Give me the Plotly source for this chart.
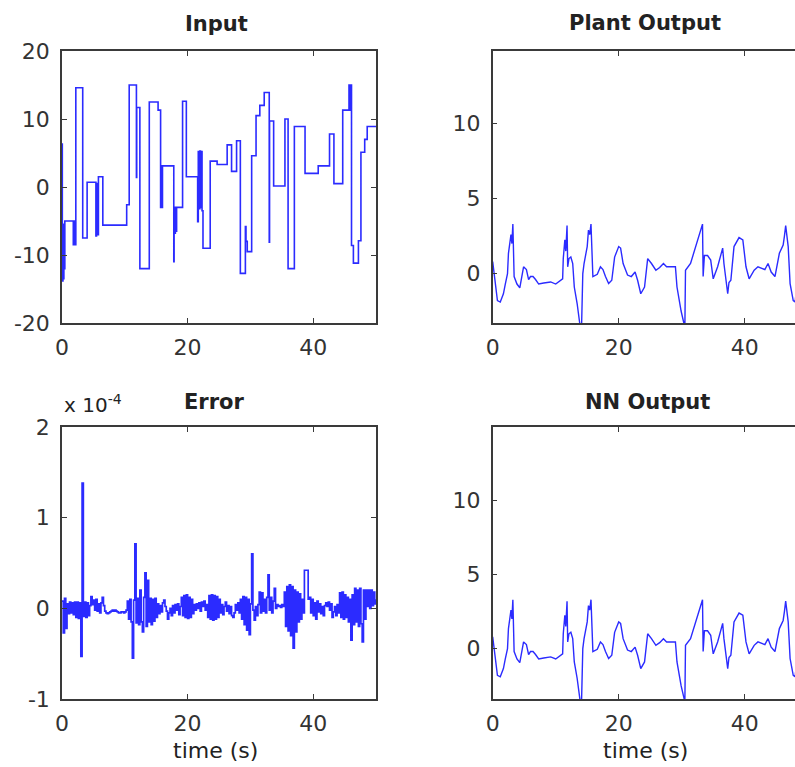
import plotly.graph_objects as go

# ---------------- data ----------------
# Input signal: piecewise-constant steps (time of step, level)
input_t = [0.0, 0.05, 0.15, 0.2, 0.3, 0.35, 0.45, 1.8, 1.9, 2.0, 2.2, 3.3, 4.0, 5.4, 5.5, 5.6,
           5.8, 6.5, 10.3, 10.7, 11.85, 11.9, 12.4, 13.9, 15.3, 15.7, 15.8, 15.9, 16.0, 17.8,
           17.85, 17.95, 18.05, 18.15, 18.25, 19.2, 19.8, 21.6, 21.7, 21.8, 21.95, 22.05, 22.15,
           22.3, 22.45, 23.6, 24.7, 26.3, 27.0, 27.8, 28.4, 29.2, 29.3, 29.5, 30.2, 30.9, 31.5,
           32.2, 33.0, 33.05, 33.7, 35.5, 36.0, 37.0, 38.7, 40.8, 42.6, 43.3, 44.7, 45.7, 45.8,
           45.9, 46.1, 46.4, 47.2, 47.6, 48.2, 48.6, 50.0]
input_u = [6.3, -13.8, -5.5, -13.5, -6.0, -12.0, -5.0, -8.5, -5.0, -8.5, 14.6, -7.5, 0.7, -7.2,
           0.5, -7.0, 1.5, -5.6, -2.6, 15.0, 1.4, 11.7, -12.0, 12.5, 11.3, -3.0, 3.1, -3.0, 3.1,
           -11.0, -3.0, -6.8, -3.0, -6.5, -3.0, 12.6, 1.5, -5.1, 5.2, -3.2, 5.3, -3.0, 5.2, -3.5,
           -9.0, 3.8, 3.3, 6.2, 2.3, 6.8, -12.7, -5.8, -8.0, -9.5, 4.6, 10.5, 12.0, 13.9, -8.1,
           9.7, 0.15, 10.0, -12.0, 8.9, 2.0, 3.1, 7.8, 0.5, 11.3, 15.0, 11.3, 15.0, -8.6, -11.2,
           -7.9, 5.1, 7.0, 8.9, 8.9]

# Plant output
plant_t = [0.0, 0.2, 0.5, 0.75, 1.2, 1.7, 2.0, 2.35, 2.5, 2.9, 3.05, 3.2, 3.4, 3.85, 4.3, 4.65,
           4.9, 5.35, 5.7, 6.0, 6.4, 6.8, 7.3, 8.1, 9.2, 10.0, 10.7, 11.1, 11.2, 11.45, 11.6,
           11.8, 11.9, 12.1, 12.4, 12.7, 12.95, 13.4, 13.9, 14.1, 14.3, 14.5, 15.0, 15.2, 15.4,
           15.6, 15.9, 16.6, 17.1, 17.5, 17.9, 18.4, 18.9, 19.35, 20.0, 20.3, 20.7, 21.4, 22.0,
           22.6, 23.0, 23.5, 24.1, 24.6, 25.2, 25.9, 26.5, 27.1, 27.6, 29.0, 29.25, 29.9, 30.5,
           30.6, 31.4, 31.9, 32.6, 33.0, 33.3, 33.4, 33.6, 34.1, 34.6, 35.0, 35.7, 36.5, 36.7,
           37.3, 37.5, 37.8, 38.3, 39.1, 39.7, 40.2, 40.7, 41.5, 42.1, 43.2, 43.7, 44.2, 44.8,
           45.5, 46.1, 46.3, 46.5, 46.9, 47.2, 47.7, 48.0, 48.2, 48.5, 49.0, 49.5, 50.0]
plant_y = [0.8, 0.0, -1.2, -1.8, -1.9, -1.35, -0.7, 0.0, 1.35, 2.6, 2.0, 3.3, -0.2, -0.7, -0.95,
           -0.2, 0.45, 0.27, -0.4, -0.2, -0.2, -0.4, -0.7, -0.63, -0.56, -0.7, -0.45, -0.35, 1.0,
           2.25, 1.5, 3.2, 0.45, 1.0, 1.1, 0.67, -0.9, -2.0, -3.6, -3.6, 0.0, 0.67, 1.8, 2.9, 2.6,
           3.3, -0.2, -0.05, 0.45, 0.27, -0.2, -0.67, -0.45, 1.1, 1.8, 1.7, 0.67, -0.1, -0.2, 0.1,
           -0.45, -1.35, -0.9, 1.0, 0.67, 0.22, 0.4, 0.67, 0.45, 0.45, -0.9, -2.5, -3.6, 0.22,
           0.67, 1.35, 2.25, 2.9, 3.3, -0.2, 1.2, 1.2, 0.9, -0.35, 0.45, 1.7, 0.67, -1.35, -0.6,
           -0.45, 1.8, 2.4, 2.25, 0.45, -0.35, 0.22, 0.45, 0.27, 0.67, 0.1, -0.2, 1.35, 1.9, 2.5,
           3.2, 1.8, -0.67, -1.8, -1.9, -1.1, 0.45, 0.6, 0.5, 0.4]

# Neural network output
nn_t = [0.0, 0.2, 0.5, 0.75, 1.2, 1.7, 2.0, 2.35, 2.5, 2.9, 3.05, 3.2, 3.4, 3.85, 4.3, 4.65,
        4.9, 5.35, 5.7, 6.0, 6.4, 6.8, 7.3, 8.1, 9.2, 10.0, 10.7, 11.1, 11.2, 11.45, 11.6,
        11.8, 11.9, 12.1, 12.4, 12.7, 12.95, 13.4, 13.9, 14.1, 14.3, 14.5, 15.0, 15.2, 15.4,
        15.6, 15.9, 16.6, 17.1, 17.5, 17.9, 18.4, 18.9, 19.35, 20.0, 20.3, 20.7, 21.4, 22.0,
        22.6, 23.0, 23.5, 24.1, 24.6, 25.2, 25.9, 26.5, 27.1, 27.6, 29.0, 29.25, 29.9, 30.5,
        30.6, 31.4, 31.9, 32.6, 33.0, 33.3, 33.4, 33.6, 34.1, 34.6, 35.0, 35.7, 36.5, 36.7,
        37.3, 37.5, 37.8, 38.3, 39.1, 39.7, 40.2, 40.7, 41.5, 42.1, 43.2, 43.7, 44.2, 44.8,
        45.5, 46.1, 46.3, 46.5, 46.9, 47.2, 47.7, 48.0, 48.2, 48.5, 49.0, 49.5, 50.0]
nn_y = [0.8, 0.0, -1.2, -1.8, -1.9, -1.35, -0.7, 0.0, 1.35, 2.6, 2.0, 3.3, -0.2, -0.7, -0.95,
        -0.2, 0.45, 0.27, -0.4, -0.2, -0.2, -0.4, -0.7, -0.63, -0.56, -0.7, -0.45, -0.35, 1.0,
        2.25, 1.5, 3.2, 0.45, 1.0, 1.1, 0.67, -0.9, -2.0, -3.6, -3.6, 0.0, 0.67, 1.8, 2.9, 2.6,
        3.3, -0.2, -0.05, 0.45, 0.27, -0.2, -0.67, -0.45, 1.1, 1.8, 1.7, 0.67, -0.1, -0.2, 0.1,
        -0.45, -1.35, -0.9, 1.0, 0.67, 0.22, 0.4, 0.67, 0.45, 0.45, -0.9, -2.5, -3.6, 0.22,
        0.67, 1.35, 2.25, 2.9, 3.3, -0.2, 1.2, 1.2, 0.9, -0.35, 0.45, 1.7, 0.67, -1.35, -0.6,
        -0.45, 1.8, 2.4, 2.25, 0.45, -0.35, 0.22, 0.45, 0.27, 0.67, 0.1, -0.2, 1.35, 1.9, 2.5,
        3.2, 1.8, -0.67, -1.8, -1.9, -1.1, 0.45, 0.6, 0.5, 0.4]

# Error (plant - NN), in units of 1e-4, sampled every 0.2 s (one row = 2 s)
error_e = [
    0.08, -0.27, 0.11, -0.22, 0.05, -0.06, 0.07, -0.05, 0.06, -0.07,      # 0 - 2 s
    0.07, -0.10, 0.07, -0.11, 0.06, -0.53, 1.38, -0.09, 0.07, -0.10,      # 2 - 4 s
    0.06, -0.08, 0.03, 0.13, 0.04, 0.09, -0.02, 0.10, -0.03, 0.05,        # 4 - 6 s
    -0.05, 0.06, 0.12, 0.03, -0.03, -0.05, -0.06, -0.05, -0.04, -0.03,    # 6 - 8 s
    -0.02, -0.03, -0.02, -0.03, -0.04, -0.05, -0.05, -0.04, -0.04, -0.05,  # 8 - 10 s
    -0.04, -0.02, 0.08, -0.12, 0.10, -0.15, -0.55, 0.09, 0.71, -0.16,     # 10 - 12 s
    0.11, -0.18, 0.20, -0.15, -0.26, 0.12, 0.39, -0.20, 0.31, -0.15,      # 12 - 14 s
    0.11, -0.18, 0.10, -0.14, 0.11, -0.10, 0.05, -0.06, 0.03, -0.04,      # 14 - 16 s
    0.06, 0.09, 0.02, -0.03, -0.12, -0.05, 0.00, -0.08, 0.03, -0.05,      # 16 - 18 s
    0.04, -0.02, 0.05, -0.07, 0.02, 0.12, -0.08, 0.14, -0.10, 0.15,       # 18 - 20 s
    -0.11, 0.12, -0.10, 0.10, -0.06, 0.04, -0.02, 0.05, 0.00, 0.06,       # 20 - 22 s
    -0.03, 0.07, 0.02, 0.08, -0.02, 0.04, -0.10, 0.14, -0.12, 0.15,       # 22 - 24 s
    -0.13, 0.14, -0.12, 0.13, -0.10, 0.10, -0.05, 0.04, -0.07, 0.02,      # 24 - 26 s
    0.07, -0.03, 0.03, -0.06, 0.02, -0.08, -0.10, -0.05, 0.04, -0.02,     # 26 - 28 s
    0.06, -0.05, 0.10, -0.12, 0.13, -0.18, 0.12, -0.24, 0.10, -0.29,      # 28 - 30 s
    0.05, 0.60, -0.02, -0.13, 0.02, -0.08, 0.04, 0.18, -0.05, 0.17,       # 30 - 32 s
    -0.03, 0.10, -0.05, 0.12, 0.37, -0.02, 0.12, -0.05, 0.08, 0.22,       # 32 - 34 s
    0.00, 0.04, 0.02, 0.03, 0.01, 0.04, 0.02, 0.18, -0.20, 0.24,          # 34 - 36 s
    -0.25, 0.26, -0.30, 0.24, -0.44, 0.20, -0.26, 0.18, -0.15, 0.16,      # 36 - 38 s
    -0.12, 0.10, -0.05, 0.42, 0.42, 0.42, 0.10, 0.12, -0.05, 0.10,        # 38 - 40 s
    -0.08, 0.06, -0.12, 0.08, -0.04, 0.05, -0.06, 0.02, -0.08, 0.03,      # 40 - 42 s
    0.06, 0.02, 0.07, -0.02, 0.05, -0.10, -0.04, 0.02, -0.08, 0.04,       # 42 - 44 s
    -0.05, 0.17, -0.10, 0.18, -0.12, 0.15, -0.10, 0.12, -0.15, 0.10,      # 44 - 46 s
    -0.35, 0.15, -0.18, 0.22, -0.15, 0.20, -0.20, 0.22, -0.17, -0.37,     # 46 - 48 s
    0.20, -0.12, 0.20, 0.02, 0.20, 0.00, 0.20, 0.03, 0.18, 0.05,          # 48 - 50 s
    0.10,
]
error_t = [round(0.2 * i, 1) for i in range(len(error_e))]

# Tick positions and labels
x_ticks = [0, 20, 40]
input_ticks = [-20, -10, 0, 10, 20]
output_ticks = [0, 5, 10]
error_ticks = [-1, 0, 1, 2]

# ---------------- layout helpers ----------------
W, H = 795, 767
LINE_BLUE = "#2b2bff"
AXIS_GRAY = "#3a3a3a"
TEXT_GRAY = "#333333"
FONT = "DejaVu Sans"


def px_x(px):
    return px / W


def px_y(py):
    return 1 - py / H


def tick_text(vals):
    return [str(v) for v in vals]


fig = go.Figure()

fig.add_trace(go.Scatter(x=input_t, y=input_u, mode="lines",
                         line=dict(color=LINE_BLUE, width=1.6, shape="hv"),
                         xaxis="x", yaxis="y", showlegend=False))
fig.add_trace(go.Scatter(x=plant_t, y=plant_y, mode="lines",
                         line=dict(color=LINE_BLUE, width=1.4),
                         xaxis="x2", yaxis="y2", showlegend=False))
fig.add_trace(go.Scatter(x=error_t, y=error_e, mode="lines",
                         line=dict(color=LINE_BLUE, width=1.7, shape="hv"),
                         xaxis="x3", yaxis="y3", showlegend=False))
fig.add_trace(go.Scatter(x=nn_t, y=nn_y, mode="lines",
                         line=dict(color=LINE_BLUE, width=1.4),
                         xaxis="x4", yaxis="y4", showlegend=False))

common = dict(showline=True, linecolor=AXIS_GRAY, linewidth=1.5, ticks="inside", ticklen=5,
              tickwidth=1.2, tickcolor=AXIS_GRAY, showgrid=False, zeroline=False,
              automargin=False, fixedrange=True,
              tickfont=dict(family=FONT, size=22, color=TEXT_GRAY))
xcommon = dict(tickvals=x_ticks, ticktext=tick_text(x_ticks), mirror="ticks", ticklabelstandoff=4, **common)

left_dom = [px_x(62), px_x(376)]
right_dom = [px_x(492.7), 1.0]
top_dom = [px_y(323), px_y(51)]
bot_dom = [px_y(699), px_y(427)]

fig.update_layout(
    width=W, height=H,
    margin=dict(l=0, r=0, t=0, b=0, pad=0, autoexpand=False),
    paper_bgcolor="white", plot_bgcolor="white",
    xaxis=dict(domain=left_dom, anchor="y", range=[0, 50], **xcommon),
    yaxis=dict(domain=top_dom, anchor="x", range=[-20, 20], tickvals=input_ticks,
               ticktext=tick_text(input_ticks), mirror="ticks", ticklabelstandoff=6, **common),
    xaxis2=dict(domain=right_dom, anchor="y2", range=[0, 47.98], **xcommon),
    yaxis2=dict(domain=top_dom, anchor="x2", range=[-3.3, 14.85], tickvals=output_ticks,
                ticktext=tick_text(output_ticks), mirror=False, ticklabelstandoff=6, **common),
    xaxis3=dict(domain=left_dom, anchor="y3", range=[0, 50], **xcommon),
    yaxis3=dict(domain=bot_dom, anchor="x3", range=[-1, 2], tickvals=error_ticks,
                ticktext=tick_text(error_ticks), mirror="ticks", ticklabelstandoff=6, **common),
    xaxis4=dict(domain=right_dom, anchor="y4", range=[0, 47.98], **xcommon),
    yaxis4=dict(domain=bot_dom, anchor="x4", range=[-3.4, 14.95], tickvals=output_ticks,
                ticktext=tick_text(output_ticks), mirror=False, ticklabelstandoff=6, **common),
)


def label(text, x, y, size, bold=False, xanchor="center"):
    fig.add_annotation(text=f"<b>{text}</b>" if bold else text, x=px_x(x), y=px_y(y),
                       xref="paper", yref="paper", xanchor=xanchor, yanchor="middle",
                       showarrow=False, font=dict(family=FONT, size=size, color="#222222"))


label("Input", 216, 24, 21, bold=True)
label("Plant Output", 645, 23, 21, bold=True)
label("Error", 214, 402, 21, bold=True)
label("NN Output", 647, 402, 21, bold=True)
label("time (s)", 215, 750, 22)
label("time (s)", 645, 750, 22)
label("x 10<sup>-4</sup>", 62, 404, 20, xanchor="left")

fig.write_html("out.html")
